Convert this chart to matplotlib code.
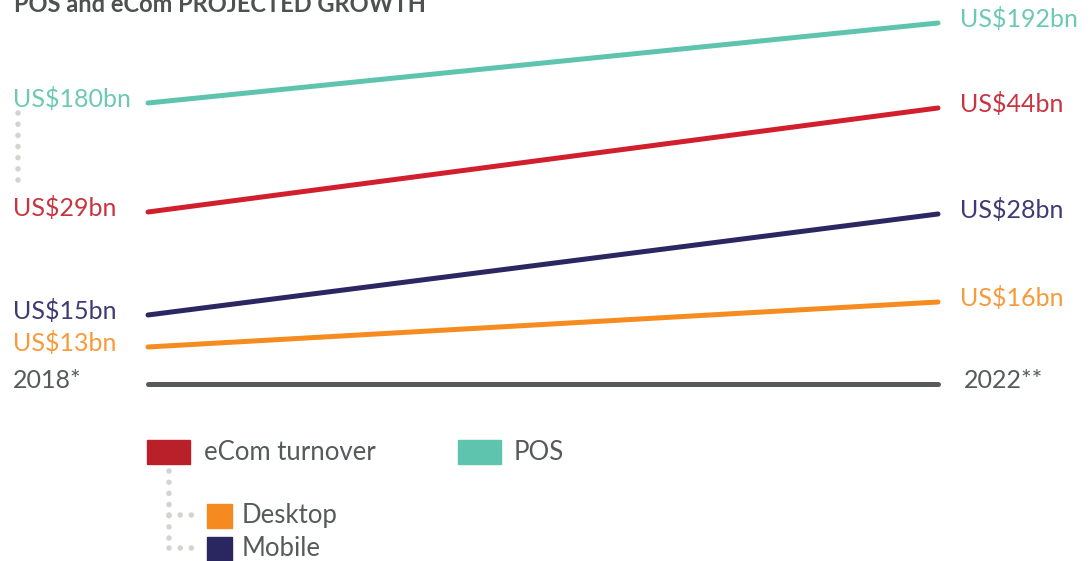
import numpy as np
import matplotlib
matplotlib.use("Agg")
import matplotlib.pyplot as plt
from matplotlib.lines import Line2D
from matplotlib.patches import Rectangle
from matplotlib.transforms import offset_copy

# data
years = [2018, 2022]
series = ["POS", "eCom turnover", "Mobile", "Desktop"]
pos_vals = [180, 192]
ecom_vals = [29, 44]
mobile_vals = [15, 28]
desktop_vals = [13, 16]
year_labels = ["2018*", "2022**"]

colors = {"POS": "#5ec4ad", "eCom turnover": "#d21f2d", "Mobile": "#2b2762", "Desktop": "#f68b1f"}
text_colors = {"POS": "#6cc9b5", "eCom turnover": "#c8343f", "Mobile": "#3e3a75", "Desktop": "#f79a3c"}
legend_colors = {"POS": "#5fc4ae", "eCom turnover": "#b92029", "Mobile": "#2a265f", "Desktop": "#f58b20"}
grey = "#555a5a"
dot_grey = "#d3d3cf"

plt.rcParams['font.family'] = ['Lato', 'DejaVu Sans']

W, H = 1091, 561
fig = plt.figure(figsize=(W / 100, H / 100), dpi=100)


def fx(px):
    return px / W


def fy(py):
    return 1 - py / H


# schematic (non-linear) value axis, as in the original infographic
brk_vals = [13, 15, 16, 28, 29, 44, 180, 192]
brk_pos = [0.0, 0.0988, 0.1389, 0.4105, 0.4167, 0.7377, 0.7531, 1.0]


def fwd(v):
    return np.interp(v, brk_vals, brk_pos)


def inv(p):
    return np.interp(p, brk_pos, brk_vals)


ax = fig.add_axes([0, fy(347), 1, fy(23) - fy(347)])
ax.set_yscale('function', functions=(fwd, inv))
ax.set_ylim(13, 192)
ax.set_xlim(2018 - 148 / 197.5, 2022 + (W - 938) / 197.5)
ax.axis('off')

data = {"POS": pos_vals, "eCom turnover": ecom_vals, "Mobile": mobile_vals, "Desktop": desktop_vals}
for name in series:
    vals = data[name]
    ax.plot(years, vals, color=colors[name], lw=3.6, solid_capstyle='round', clip_on=False)
    up = offset_copy(ax.transData, fig=fig, x=0, y=4, units='dots')
    ax.text(2018 - 135 / 197.5, vals[0], f"US${vals[0]}bn", transform=up, color=text_colors[name],
            fontsize=18, ha='left', va='center')
    ax.text(2022 + 22 / 197.5, vals[1], f"US${vals[1]}bn", transform=up, color=text_colors[name],
            fontsize=18, ha='left', va='center')

# timeline
base_y = (347 - 384) / 324
ax.plot(years, [base_y, base_y], transform=ax.get_xaxis_transform(), color=grey, lw=3.6,
        solid_capstyle='round', clip_on=False)
fig.text(fx(13), fy(380), year_labels[0], color=grey, fontsize=18, va='center')
fig.text(fx(964), fy(380), year_labels[1], color=grey, fontsize=18, va='center')

# title (cut at the top edge, as in the original)
fig.text(fx(14), fy(12), "POS and eCom PROJECTED GROWTH", color="#4d5152", fontsize=17,
         fontweight='bold', va='baseline')

dots = dict(color=dot_grey, lw=4, linestyle=(0, (0.01, 2.0)), dash_capstyle='round')
# connector between POS and eCom labels
fig.add_artist(Line2D([fx(18), fx(18)], [fy(113), fy(190)], **dots))

# legend
fig.add_artist(Rectangle((fx(147), fy(464)), fx(43), 24 / H, color=legend_colors["eCom turnover"]))
fig.text(fx(204), fy(452), "eCom turnover", color=grey, fontsize=18.5, va='center')
fig.add_artist(Rectangle((fx(458), fy(464)), fx(43), 24 / H, color=legend_colors["POS"]))
fig.text(fx(514), fy(452), "POS", color=grey, fontsize=18.5, va='center')
fig.add_artist(Rectangle((fx(207), fy(528)), fx(25), 24 / H, color=legend_colors["Desktop"]))
fig.text(fx(242), fy(515), "Desktop", color=grey, fontsize=18.5, va='center')
fig.add_artist(Rectangle((fx(207), fy(561)), fx(25), 24 / H, color=legend_colors["Mobile"]))
fig.text(fx(242), fy(548), "Mobile", color=grey, fontsize=18.5, va='center')

fig.add_artist(Line2D([fx(169), fx(169)], [fy(471), fy(548)], **dots))
fig.add_artist(Line2D([fx(169), fx(201)], [fy(515), fy(515)], **dots))
fig.add_artist(Line2D([fx(169), fx(201)], [fy(548), fy(548)], **dots))

fig.savefig("out.png", dpi=100, facecolor='white')
